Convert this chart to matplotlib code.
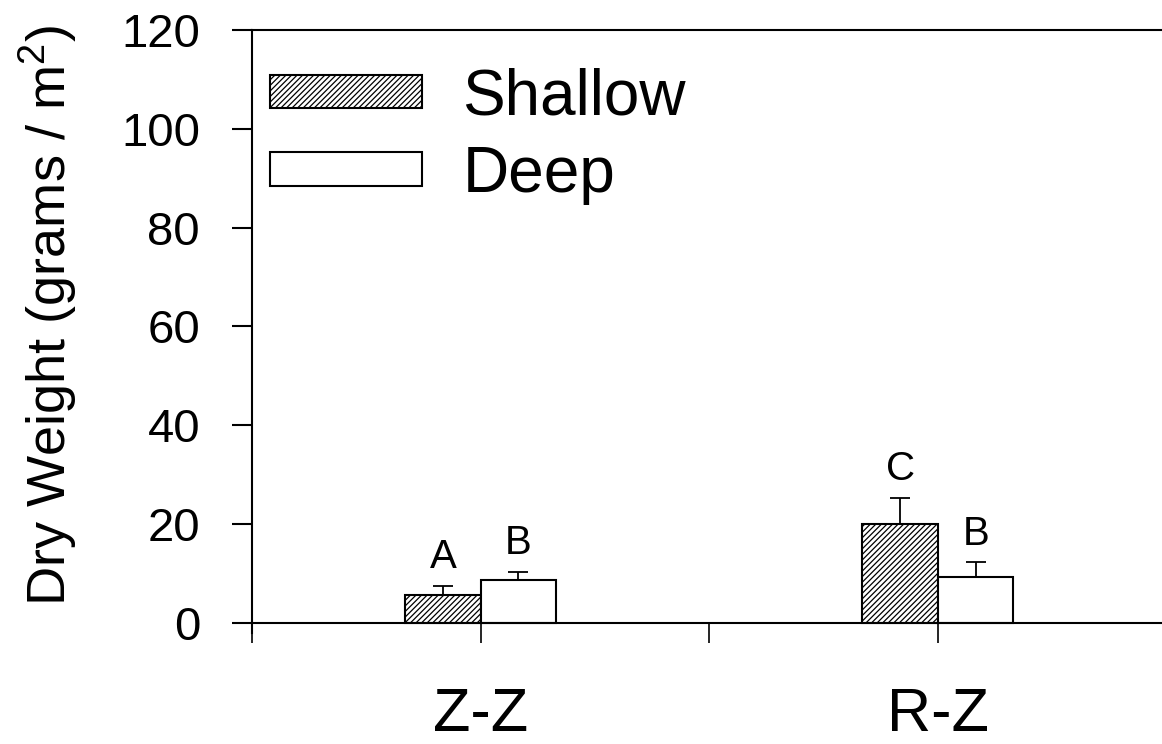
import numpy as np
import matplotlib
matplotlib.use("Agg")
import matplotlib.pyplot as plt

plt.rcParams['font.family'] = ['Liberation Sans', 'DejaVu Sans']
plt.rcParams['mathtext.default'] = 'regular'
plt.rcParams['hatch.linewidth'] = 0.9

# values
groups = ['Z-Z', 'R-Z']
series = ['Shallow', 'Deep']
shallow = [5.6, 19.9]
shallow_err = [1.8, 5.4]
deep = [8.6, 9.2]
deep_err = [1.6, 3.0]
shallow_letters = ['A', 'C']
deep_letters = ['B', 'B']
yticks = [0, 20, 40, 60, 80, 100, 120]

fig = plt.figure(figsize=(11.62, 7.44), dpi=100)
ax = fig.add_axes([252 / 1162, 111 / 744, 910 / 1162, 603 / 744])

pos = np.array([1, 3])
w = 0.33
lw = 1.5

ax.bar(pos - w / 2, shallow, w, color='white', edgecolor='black',
       linewidth=lw, hatch='//////', label=series[0], zorder=2)
ax.bar(pos + w / 2, deep, w, color='white', edgecolor='black',
       linewidth=lw, label=series[1], zorder=2)

for xs, vals, errs in [(pos - w / 2, shallow, shallow_err), (pos + w / 2, deep, deep_err)]:
    ax.errorbar(xs, vals, yerr=[np.zeros(len(errs)), errs], fmt='none',
                ecolor='black', elinewidth=1.3, capsize=7, capthick=1.3, zorder=3)

# significance letters above the error bars
for xs, vals, errs, labs in [(pos - w / 2, shallow, shallow_err, shallow_letters),
                             (pos + w / 2, deep, deep_err, deep_letters)]:
    for x, v, e, t in zip(xs, vals, errs, labs):
        ax.text(x, v + e + 2.0, t, ha='center', va='bottom', fontsize=29)

ax.set_xlim(0, 3.98)
ax.set_ylim(-2.1, 120)
ax.set_yticks(yticks)
ax.set_xticks([0, 1, 2, 3])
ax.set_xticklabels(['', groups[0], '', groups[1]])

ax.spines['right'].set_visible(False)
ax.spines['bottom'].set_position(('data', 0))
for s in ['left', 'bottom', 'top']:
    ax.spines[s].set_linewidth(1.5)

ax.tick_params(axis='y', direction='out', length=14.4, width=1.5, pad=23, labelsize=34)
ax.tick_params(axis='x', direction='out', length=14.4, width=1.2, pad=32, labelsize=44)

ax.set_ylabel('Dry Weight (grams / m$^2$)', fontsize=39)
ax.yaxis.set_label_coords(-0.19, 0.527)

ax.legend(loc='upper left', bbox_to_anchor=(0.0198, 0.938), frameon=False,
          fontsize=46, handlelength=2.38, handleheight=0.43, handletextpad=0.63,
          labelspacing=0.27, borderpad=0, borderaxespad=0)

fig.savefig('out.png', dpi=100)
